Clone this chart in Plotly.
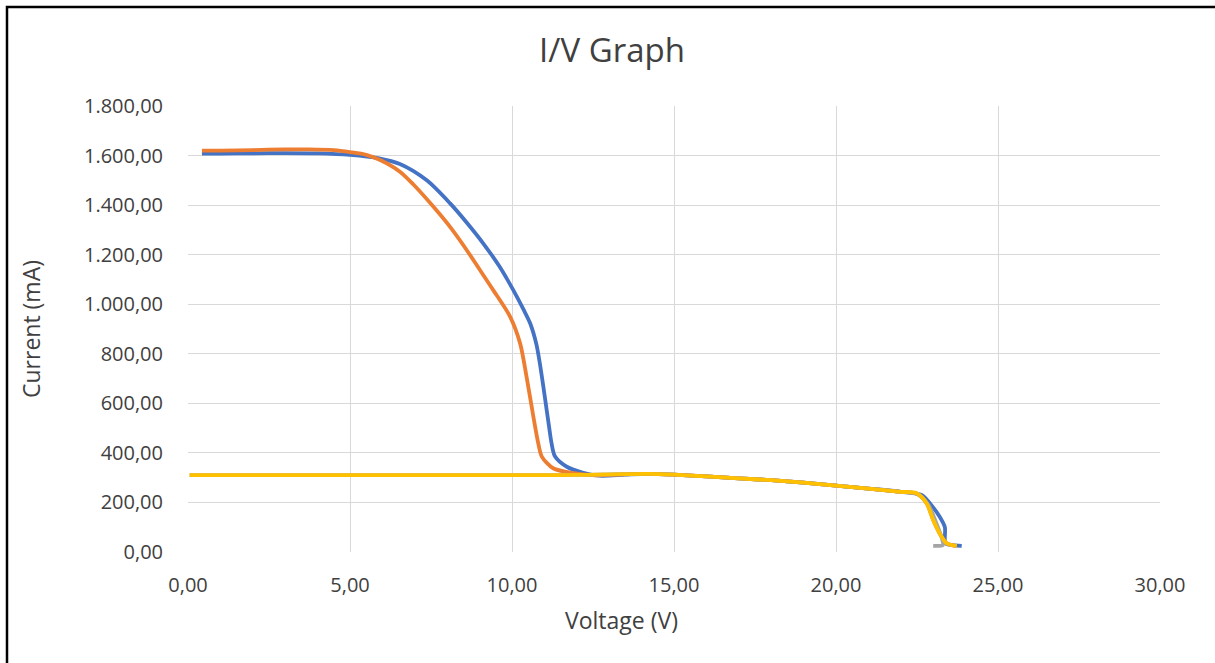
import plotly.graph_objects as go

# ---- data ----
blue_v = [0.43, 1.0, 2.0, 3.0, 4.0, 5.0, 5.9, 6.54, 7.37, 8.09, 8.6, 9.11, 9.6, 10.04, 10.35, 10.56,
          10.75, 10.86, 10.97, 11.07, 11.15, 11.22, 11.33, 11.69, 12.2, 12.7, 13.5, 14.2, 15.0, 16.0,
          17.0, 18.0, 19.0, 20.0, 21.0, 22.0, 22.64, 22.9, 23.2, 23.36, 23.38, 23.6, 23.88]
blue_i = [1608, 1608, 1609, 1610, 1609, 1603, 1589, 1566, 1500, 1407, 1330, 1246, 1155, 1057, 980, 923,
          840, 761, 665, 573, 500, 439, 385, 344, 320, 308, 312, 315, 312, 305,
          297, 290, 280, 268, 256, 243, 230, 196, 142, 100, 35, 28, 25]

orange_v = [0.43, 1.0, 2.0, 3.0, 3.7, 4.5, 5.0, 5.5, 5.93, 6.54, 6.95, 7.57, 8.1, 8.6, 9.0, 9.42, 9.94,
            10.25, 10.45, 10.66, 10.81, 10.92, 11.27, 11.9, 12.5, 13.2, 14.0, 15.0, 16.0, 17.0,
            18.0, 19.0, 20.0, 21.0, 22.0, 22.5, 22.8, 23.0, 23.2, 23.42, 23.7]
orange_i = [1620, 1620, 1622, 1625, 1625, 1622, 1614, 1603, 1582, 1535, 1484, 1394, 1310, 1219, 1140, 1057, 950,
            842, 707, 546, 439, 385, 338, 318, 310, 312, 315, 312, 305, 297,
            290, 280, 268, 256, 243, 235, 196, 129, 75, 35, 25]

gray_v = [0.05, 2.0, 4.0, 6.0, 8.0, 10.0, 11.0, 12.0, 12.6, 13.5, 14.2, 15.0, 16.0, 17.0, 18.0,
          19.0, 20.0, 21.0, 22.0, 22.5, 22.85, 23.1, 23.28, 23.3, 23.0]
gray_i = [310, 310, 310, 310, 310, 310, 310, 311, 312, 314, 315, 312, 305, 297, 290,
          280, 268, 256, 243, 235, 190, 115, 50, 28, 25]

yellow_v = [0.05, 2.0, 4.0, 6.0, 8.0, 10.0, 11.0, 12.0, 12.6, 13.5, 14.2, 15.0, 16.0, 17.0, 18.0,
            19.0, 20.0, 21.0, 22.0, 22.49, 22.8, 23.0, 23.2, 23.42, 23.73]
yellow_i = [310, 310, 310, 310, 310, 310, 310, 311, 312, 314, 315, 312, 305, 297, 290,
            280, 268, 256, 243, 237, 196, 129, 75, 35, 25]

x_ticks = [0, 5, 10, 15, 20, 25, 30]
y_ticks = [0, 200, 400, 600, 800, 1000, 1200, 1400, 1600, 1800]

FONT = "Open Sans"
TXT = "#404040"

fig = go.Figure()
series = [
    (blue_v, blue_i, "#4472C4"),
    (orange_v, orange_i, "#ED7D31"),
    (gray_v, gray_i, "#A5A5A5"),
    (yellow_v, yellow_i, "#FFC000"),
]
for v, i, c in series:
    fig.add_trace(go.Scatter(x=v, y=i, mode="lines",
                             line=dict(color=c, width=3.8, shape="spline", smoothing=0.8),
                             showlegend=False, hoverinfo="skip"))

W, H = 1215, 663
L, R, T, B = 188, 55, 106, 111
pw, ph = W - L - R, H - T - B

def px_x(px):
    return (px - L) / pw

def px_y(py):
    return (H - B - py) / ph

fig.update_layout(
    width=W, height=H,
    margin=dict(l=L, r=R, t=T, b=B),
    paper_bgcolor="white", plot_bgcolor="white",
    separators=",.",
    font=dict(family=FONT, color=TXT),
    title=dict(text="I/V Graph", x=612 / W, xanchor="center", xref="container",
               y=(H - 50) / H, yanchor="middle", yref="container",
               font=dict(size=33, family=FONT, color=TXT)),
    xaxis=dict(range=[0, 30], tickvals=x_ticks, tickformat=",.2f",
               showgrid=True, gridcolor="#D9D9D9", gridwidth=1.3,
               zeroline=False, showline=False,
               ticks="outside", ticklen=15, tickcolor="rgba(0,0,0,0)",
               tickfont=dict(size=20, family=FONT, color=TXT)),
    yaxis=dict(range=[0, 1800], tickvals=y_ticks, tickformat=",.2f",
               showgrid=True, gridcolor="#D9D9D9", gridwidth=1.3,
               zeroline=False, showline=False,
               ticks="outside", ticklen=20, tickcolor="rgba(0,0,0,0)",
               tickfont=dict(size=20, family=FONT, color=TXT),
               title=dict(text="Current (mA)", standoff=36,
                          font=dict(size=23, family=FONT, color=TXT))),
    annotations=[dict(text="Voltage (V)", xref="paper", yref="paper",
                      x=px_x(621), y=px_y(620), xanchor="center", yanchor="middle",
                      showarrow=False, font=dict(size=23, family=FONT, color=TXT))],
    shapes=[dict(type="rect", xref="paper", yref="paper",
                 x0=px_x(7), y0=px_y(700), x1=px_x(1240), y1=px_y(7),
                 line=dict(color="black", width=2.5), fillcolor="rgba(0,0,0,0)",
                 layer="below")],
)

fig.write_html("out.html", config={"displayModeBar": False},
               post_script="document.body.style.margin='0';document.body.style.overflow='hidden';")
